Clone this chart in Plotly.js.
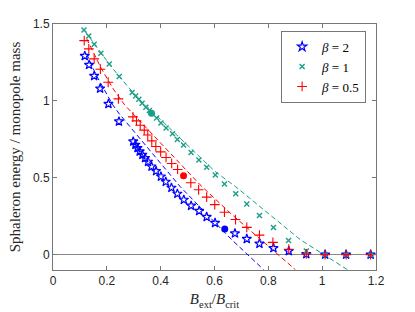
<!DOCTYPE html>
<html>
<head>
<meta charset="utf-8">
<script src="https://cdn.plot.ly/plotly-3.0.1.min.js"></script>
<style>html,body{margin:0;padding:0;background:#fff;}#chart{width:415px;height:312px;}</style>
</head>
<body>
<div id="chart"></div>
<script>
// beta = 2 (blue stars)
const b2X = [0.118, 0.134, 0.153, 0.175, 0.206, 0.245, 0.298, 0.306, 0.314, 0.322, 0.332, 0.342, 0.353, 0.366, 0.383, 0.401, 0.419, 0.440, 0.462, 0.486, 0.513, 0.543, 0.571, 0.602, 0.676, 0.720, 0.767, 0.819, 0.876, 0.941, 1.011, 1.089, 1.180];
const b2Y = [1.292, 1.234, 1.162, 1.080, 0.980, 0.866, 0.736, 0.714, 0.693, 0.671, 0.649, 0.628, 0.604, 0.573, 0.543, 0.508, 0.474, 0.435, 0.396, 0.357, 0.318, 0.284, 0.245, 0.206, 0.138, 0.102, 0.071, 0.042, 0.023, 0.003, 0, 0, 0];
// beta = 1 (teal x)
const b1X = [0.115, 0.133, 0.153, 0.178, 0.209, 0.246, 0.294, 0.307, 0.319, 0.331, 0.345, 0.358, 0.385, 0.401, 0.420, 0.444, 0.462, 0.485, 0.513, 0.542, 0.571, 0.603, 0.637, 0.679, 0.720, 0.767, 0.819, 0.875, 0.941, 1.011, 1.089, 1.180];
const b1Y = [1.461, 1.422, 1.368, 1.310, 1.240, 1.158, 1.054, 1.032, 1.011, 0.985, 0.959, 0.937, 0.888, 0.856, 0.823, 0.786, 0.749, 0.713, 0.664, 0.616, 0.569, 0.518, 0.460, 0.396, 0.329, 0.255, 0.176, 0.092, 0.023, 0, 0, 0];
// beta = 0.5 (red +)
const b05X = [0.116, 0.133, 0.153, 0.176, 0.205, 0.243, 0.297, 0.310, 0.324, 0.339, 0.352, 0.367, 0.382, 0.400, 0.420, 0.441, 0.463, 0.512, 0.541, 0.571, 0.601, 0.637, 0.678, 0.720, 0.767, 0.817, 0.876, 0.941, 1.011, 1.089, 1.180];
const b05Y = [1.392, 1.338, 1.273, 1.206, 1.121, 1.013, 0.896, 0.870, 0.841, 0.810, 0.778, 0.740, 0.703, 0.668, 0.632, 0.593, 0.554, 0.467, 0.422, 0.374, 0.325, 0.276, 0.228, 0.177, 0.127, 0.080, 0.035, 0.005, 0, 0, 0];
// dashed approximations
const lineB2X = [0.125, 0.160, 0.191, 0.222, 0.247, 0.372, 0.472, 0.664, 0.782];
const lineB2Y = [1.305, 1.169, 1.071, 0.974, 0.914, 0.649, 0.443, 0.097, -0.097];
const lineB1X = [0.118, 0.216, 0.278, 0.323, 0.602, 0.677, 0.919, 1.093];
const lineB1Y = [1.455, 1.223, 1.093, 1.006, 0.541, 0.444, 0.097, -0.097];
const lineB05X = [0.125, 0.179, 0.222, 0.266, 0.546, 0.658, 0.900];
const lineB05Y = [1.405, 1.212, 1.082, 0.974, 0.455, 0.271, -0.097];
// highlighted points
const dotX = [0.638, 0.366, 0.485];
const dotY = [0.167, 0.919, 0.513];

const BLUE = 'rgb(0,0,255)';
const TEAL = 'rgb(25,158,135)';
const RED = 'rgb(255,0,0)';
const dotColors = [BLUE, TEAL, RED];

const dashLine = (x, y, c) => ({x, y, type: 'scatter', mode: 'lines', showlegend: false, hoverinfo: 'skip',
  line: {color: c, width: 1, dash: '5px,3px'}});

const traces = [
  dashLine(lineB2X, lineB2Y, BLUE),
  dashLine(lineB1X, lineB1Y, TEAL),
  dashLine(lineB05X, lineB05Y, RED),
  {x: b2X, y: b2Y, type: 'scatter', mode: 'markers', name: '<i>β</i> = 2',
   marker: {symbol: 'star-open', size: 7, color: BLUE, line: {color: BLUE, width: 1.2}}},
  {x: b1X, y: b1Y, type: 'scatter', mode: 'markers', name: '<i>β</i> = 1',
   marker: {symbol: 'x-thin', size: 5, color: TEAL, line: {color: TEAL, width: 1.4}}},
  {x: b05X, y: b05Y, type: 'scatter', mode: 'markers', name: '<i>β</i> = 0.5',
   marker: {symbol: 'cross-thin', size: 7, color: RED, line: {color: RED, width: 1.1}}},
  {x: dotX, y: dotY, type: 'scatter', mode: 'markers', showlegend: false,
   marker: {symbol: 'circle', size: 7, color: dotColors}}
];

const tickFont = {family: '"Liberation Sans", Arial, sans-serif', size: 12, color: '#262626'};
const serif = '"Liberation Serif", "DejaVu Serif", serif';

const layout = {
  width: 415, height: 312,
  margin: {l: 53, r: 39, t: 24, b: 42},
  paper_bgcolor: '#fff', plot_bgcolor: '#fff',
  showlegend: true,
  legend: {x: 0.97, xanchor: 'right', y: 0.972, yanchor: 'top', bgcolor: '#fff',
    bordercolor: '#555', borderwidth: 0.8, font: {family: serif, size: 13, color: '#000'},
    tracegroupgap: 0, itemwidth: 30},
  xaxis: {range: [0, 1.2], tickvals: [0, 0.2, 0.4, 0.6, 0.8, 1, 1.2], ticktext: ['0', '0.2', '0.4', '0.6', '0.8', '1', '1.2'],
    ticks: 'inside', ticklen: 4, tickcolor: '#777', showline: true, mirror: 'ticks', linecolor: '#777', linewidth: 1,
    showgrid: false, zeroline: false, tickfont: tickFont,
    title: {text: '<i>B</i><sub>ext</sub>/<i>B</i><sub>crit</sub>', font: {family: serif, size: 15, color: '#262626'}, standoff: 6}},
  yaxis: {range: [-0.1, 1.5], tickvals: [0, 0.5, 1, 1.5], ticktext: ['0', '0.5', '1', '1.5'],
    ticks: 'inside', ticklen: 4, tickcolor: '#777', showline: true, mirror: 'ticks', linecolor: '#777', linewidth: 1,
    showgrid: false, zeroline: true, zerolinecolor: '#888', zerolinewidth: 1.5, tickfont: tickFont,
    title: {text: 'Sphaleron energy / monopole mass', font: {family: serif, size: 15, color: '#262626'}, standoff: 8}}
};

Plotly.newPlot('chart', traces, layout, {displayModeBar: false, staticPlot: true});
</script>
</body>
</html>
